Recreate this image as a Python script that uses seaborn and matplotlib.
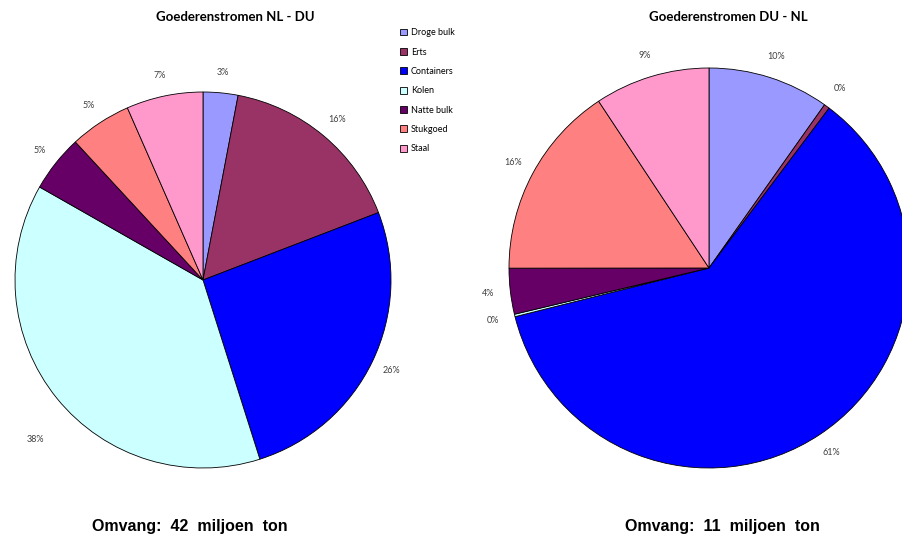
import matplotlib
matplotlib.use('Agg')
import matplotlib.pyplot as plt
import seaborn as sns

# goederensoorten en aandelen (%)
categories = ['Droge bulk', 'Erts', 'Containers', 'Kolen', 'Natte bulk', 'Stukgoed', 'Staal']
nl_du = [3.0, 16.2, 26.0, 38.2, 4.9, 5.3, 6.6]
du_nl = [9.8, 0.45, 60.8, 0.2, 3.7, 15.7, 9.3]
colors = ['#9999FF', '#993366', '#0000FF', '#CCFFFF', '#660066', '#FF8080', '#FF99CC']

titles = ['Goederenstromen NL - DU', 'Goederenstromen DU - NL']
footers = ['Omvang:  42  miljoen  ton', 'Omvang:  11  miljoen  ton']

sns.set_theme(style='white')
plt.rcParams['font.family'] = ['Lato', 'DejaVu Sans']
plt.rcParams['text.color'] = 'black'

fig = plt.figure(figsize=(9.02, 5.42), dpi=100)
W, H = 902, 542

def px_axes(x0, y0, w, h):
    return fig.add_axes([x0 / W, 1 - (y0 + h) / H, w / W, h / H])

ax1 = px_axes(15, 92, 376, 376)
ax2 = px_axes(509, 68, 400, 400)

pies = []
for ax, vals in [(ax1, nl_du), (ax2, du_nl)]:
    wedges, texts, autotexts = ax.pie(
        vals, colors=colors, startangle=90, counterclock=False,
        autopct='%1.0f%%', pctdistance=1.11,
        wedgeprops=dict(edgecolor='black', linewidth=0.6),
        textprops=dict(fontsize=6.5, color='#404040'))
    ax.set_xlim(-1, 1)
    ax.set_ylim(-1, 1)
    ax.set_aspect('equal')
    pies.append((wedges, autotexts))

# Excel zet het label van Kolen wat verder naar buiten
pies[0][1][3].set_position((-0.89, -0.85))

fig.text(235 / W, 1 - 17 / H, titles[0], ha='center', va='center',
         fontsize=9.5, fontweight='bold', color='black')
fig.text(728 / W, 1 - 17 / H, titles[1], ha='center', va='center',
         fontsize=9.5, fontweight='bold', color='black')

for xc, txt in [(190, footers[0]), (722, footers[1])]:
    fig.text(xc / W, 1 - 527 / H, txt, ha='center', va='center',
             fontsize=11.5, fontweight='bold', family='Liberation Sans',
             color='black')

leg = fig.legend(pies[0][0], categories, loc='upper left',
                 bbox_to_anchor=(392 / W, 1 - 20 / H), frameon=False,
                 fontsize=6.5, handlelength=0.8, handleheight=0.8,
                 handletextpad=0.4, labelspacing=1.15)
for t in leg.get_texts():
    t.set_color('black')

fig.savefig('out.png', dpi=100)
